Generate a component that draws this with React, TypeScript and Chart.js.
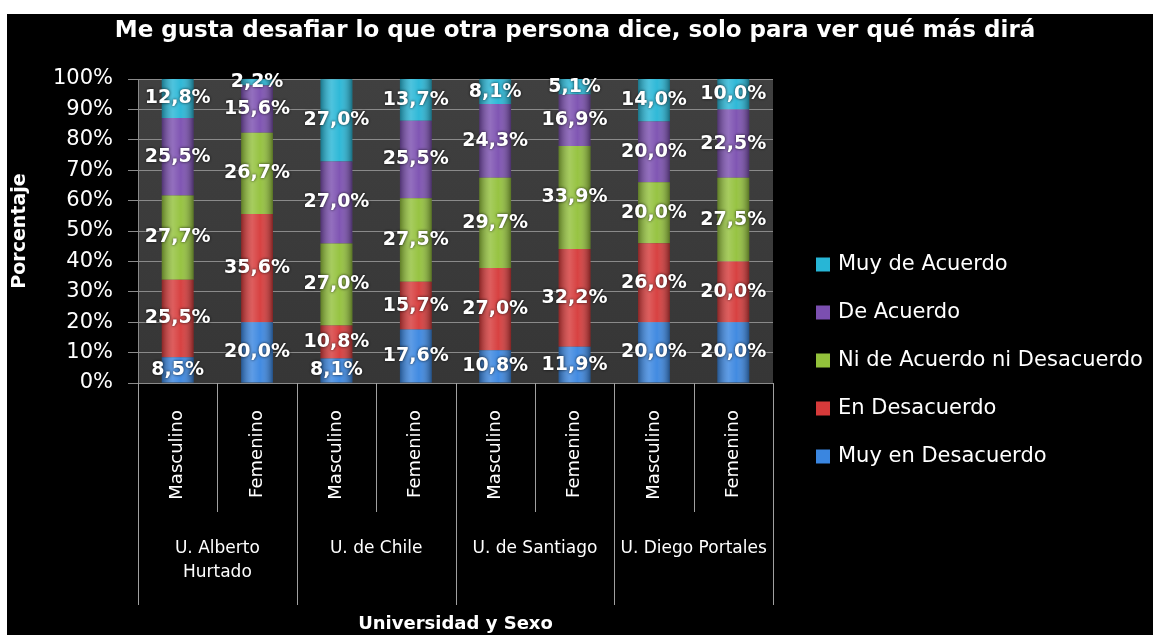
import React, { useEffect, useRef } from "react";
import { Chart, registerables } from "chart.js";

Chart.register(...registerables);

const TITLE = "Me gusta desafiar lo que otra persona dice, solo para ver qué más dirá";
const X_TITLE = "Universidad y Sexo";
const Y_TITLE = "Porcentaje";

const categories = ["Masculino", "Femenino", "Masculino", "Femenino", "Masculino", "Femenino", "Masculino", "Femenino"];
const groups = [["U. Alberto", "Hurtado"], ["U. de Chile"], ["U. de Santiago"], ["U. Diego Portales"]];

const seriesNames = ["Muy en Desacuerdo", "En Desacuerdo", "Ni de Acuerdo ni Desacuerdo", "De Acuerdo", "Muy de Acuerdo"];
const muyEnDesacuerdo = [8.5, 20.0, 8.1, 17.6, 10.8, 11.9, 20.0, 20.0];
const enDesacuerdo = [25.5, 35.6, 10.8, 15.7, 27.0, 32.2, 26.0, 20.0];
const niDeAcuerdoNiDesacuerdo = [27.7, 26.7, 27.0, 27.5, 29.7, 33.9, 20.0, 27.5];
const deAcuerdo = [25.5, 15.6, 27.0, 25.5, 24.3, 16.9, 20.0, 22.5];
const muyDeAcuerdo = [12.8, 2.2, 27.0, 13.7, 8.1, 5.1, 14.0, 10.0];
const seriesValues = [muyEnDesacuerdo, enDesacuerdo, niDeAcuerdoNiDesacuerdo, deAcuerdo, muyDeAcuerdo];
const seriesColors = ["#3a86e0", "#d63a3a", "#93c13b", "#7b4fb0", "#27b6d6"];

const yTickValues = [0, 10, 20, 30, 40, 50, 60, 70, 80, 90, 100];

const FONT = '"DejaVu Sans", sans-serif';

const fmt = (v: number) => v.toFixed(1).replace(".", ",") + "%";

const decor = {
  id: "decor",
  beforeDraw(chart: any) {
    const { ctx, chartArea: a, width, height } = chart;
    ctx.save();
    ctx.fillStyle = "#000";
    ctx.fillRect(0, 0, width, height);
    const g = ctx.createLinearGradient(0, a.top, 0, a.bottom);
    g.addColorStop(0, "#404040");
    g.addColorStop(1, "#363636");
    ctx.fillStyle = g;
    ctx.fillRect(a.left, a.top, a.right - a.left, a.bottom - a.top);
    ctx.restore();
  },
  afterDatasetsDraw(chart: any) {
    const { ctx } = chart;
    ctx.save();
    chart.data.datasets.forEach((ds: any, di: number) => {
      const meta = chart.getDatasetMeta(di);
      meta.data.forEach((el: any) => {
        const { x, y, base, width } = el.getProps(["x", "y", "base", "width"], true);
        const left = x - width / 2;
        const top = Math.min(y, base);
        const h = Math.abs(base - y);
        const g = ctx.createLinearGradient(left, 0, left + width, 0);
        g.addColorStop(0, "rgba(0,0,0,0.35)");
        g.addColorStop(0.35, "rgba(255,255,255,0.18)");
        g.addColorStop(0.6, "rgba(255,255,255,0.04)");
        g.addColorStop(1, "rgba(0,0,0,0.4)");
        ctx.fillStyle = g;
        ctx.fillRect(left, top, width, h);
      });
    });
    ctx.font = `bold 19px ${FONT}`;
    ctx.textAlign = "center";
    ctx.textBaseline = "middle";
    ctx.fillStyle = "#ffffff";
    ctx.shadowColor = "rgba(0,0,0,0.8)";
    ctx.shadowBlur = 3;
    chart.data.datasets.forEach((ds: any, di: number) => {
      const meta = chart.getDatasetMeta(di);
      meta.data.forEach((el: any, i: number) => {
        const { x, y, base } = el.getProps(["x", "y", "base"], true);
        ctx.fillText(fmt(ds.data[i]), x, (y + base) / 2);
      });
    });
    ctx.restore();
  },
  afterDraw(chart: any) {
    const { ctx, chartArea: a } = chart;
    const xs = chart.scales.x;
    ctx.save();
    // title
    ctx.fillStyle = "#ffffff";
    ctx.font = `bold 23px ${FONT}`;
    ctx.textAlign = "center";
    ctx.textBaseline = "alphabetic";
    ctx.fillText(TITLE, 568, 23);

    // category separators
    const n = categories.length;
    const edge = (k: number) => {
      if (k <= 0) return a.left;
      if (k >= n) return a.right;
      return (xs.getPixelForValue(k - 1) + xs.getPixelForValue(k)) / 2;
    };
    ctx.strokeStyle = "#a0a0a0";
    ctx.lineWidth = 1;
    for (let k = 0; k <= n; k++) {
      const px = Math.round(edge(k)) + 0.5;
      const long = k % 2 === 0;
      ctx.beginPath();
      ctx.moveTo(px, a.bottom);
      ctx.lineTo(px, long ? a.bottom + 222 : a.bottom + 129);
      ctx.stroke();
    }
    // group labels
    ctx.font = `17px ${FONT}`;
    ctx.textBaseline = "middle";
    ctx.fillStyle = "#ffffff";
    groups.forEach((lines, gi) => {
      const cx = (edge(gi * 2) + edge(gi * 2 + 2)) / 2;
      lines.forEach((t, li) => {
        ctx.fillText(t, cx, a.bottom + 166 + li * 24);
      });
    });

    // legend
    ctx.font = `21px ${FONT}`;
    ctx.textAlign = "left";
    const order = seriesNames.map((_, i) => i).reverse();
    order.forEach((si, row) => {
      const yy = 250.5 + row * 48;
      const bx = a.right + 43;
      ctx.fillStyle = seriesColors[si];
      ctx.fillRect(bx, yy - 7, 14, 14);
      ctx.fillStyle = "#ffffff";
      ctx.fillText(seriesNames[si], bx + 22, yy);
    });
    ctx.restore();
  },
};

export default function App() {
  const ref = useRef<HTMLCanvasElement | null>(null);
  useEffect(() => {
    if (!ref.current) return;
    const chart = new Chart(ref.current, {
      type: "bar",
      data: {
        labels: categories,
        datasets: seriesNames.map((name, i) => ({
          label: name,
          data: seriesValues[i],
          backgroundColor: seriesColors[i],
          borderWidth: 0,
          barPercentage: 0.4,
          categoryPercentage: 1.0,
        })),
      },
      options: {
        animation: false,
        responsive: false,
        devicePixelRatio: 1,
        layout: { padding: { top: 65, right: 380, left: 0, bottom: 0 } },
        plugins: {
          legend: { display: false },
          title: { display: false },
          tooltip: { enabled: false },
        },
        scales: {
          x: {
            stacked: true,
            grid: { display: false },
            border: { display: true, color: "#8a8a8a" },
            ticks: {
              color: "#ffffff",
              font: { family: FONT, size: 18 },
              minRotation: 90,
              maxRotation: 90,
              padding: 19,
              autoSkip: false,
            },
            title: {
              display: true,
              text: X_TITLE,
              color: "#ffffff",
              font: { family: FONT, size: 18, weight: "bold" },
              padding: { top: 0, bottom: 0 },
            },
            afterFit: (s: any) => {
              s.height = 252;
            },
          },
          y: {
            stacked: true,
            min: 0,
            max: 100,
            afterBuildTicks: (s: any) => {
              s.ticks = yTickValues.map((v) => ({ value: v }));
            },
            grid: { color: "#8a8a8a", tickLength: 10 },
            border: { display: true, color: "#8a8a8a" },
            ticks: {
              color: "#ffffff",
              font: { family: FONT, size: 21 },
              padding: 15,
              callback: (v: any) => v + "%",
            },
            title: {
              display: true,
              text: Y_TITLE,
              color: "#ffffff",
              font: { family: FONT, size: 19, weight: "bold" },
              padding: { top: 2, bottom: 0 },
            },
            afterFit: (s: any) => {
              s.width = 131;
            },
          },
        },
      },
      plugins: [decor],
    });
    return () => chart.destroy();
  }, []);

  return (
    <div style={{ position: "fixed", left: 7, top: 14, width: 1146, height: 621, background: "#000" }}>
      <canvas ref={ref} width={1146} height={621} style={{ display: "block" }} />
    </div>
  );
}
